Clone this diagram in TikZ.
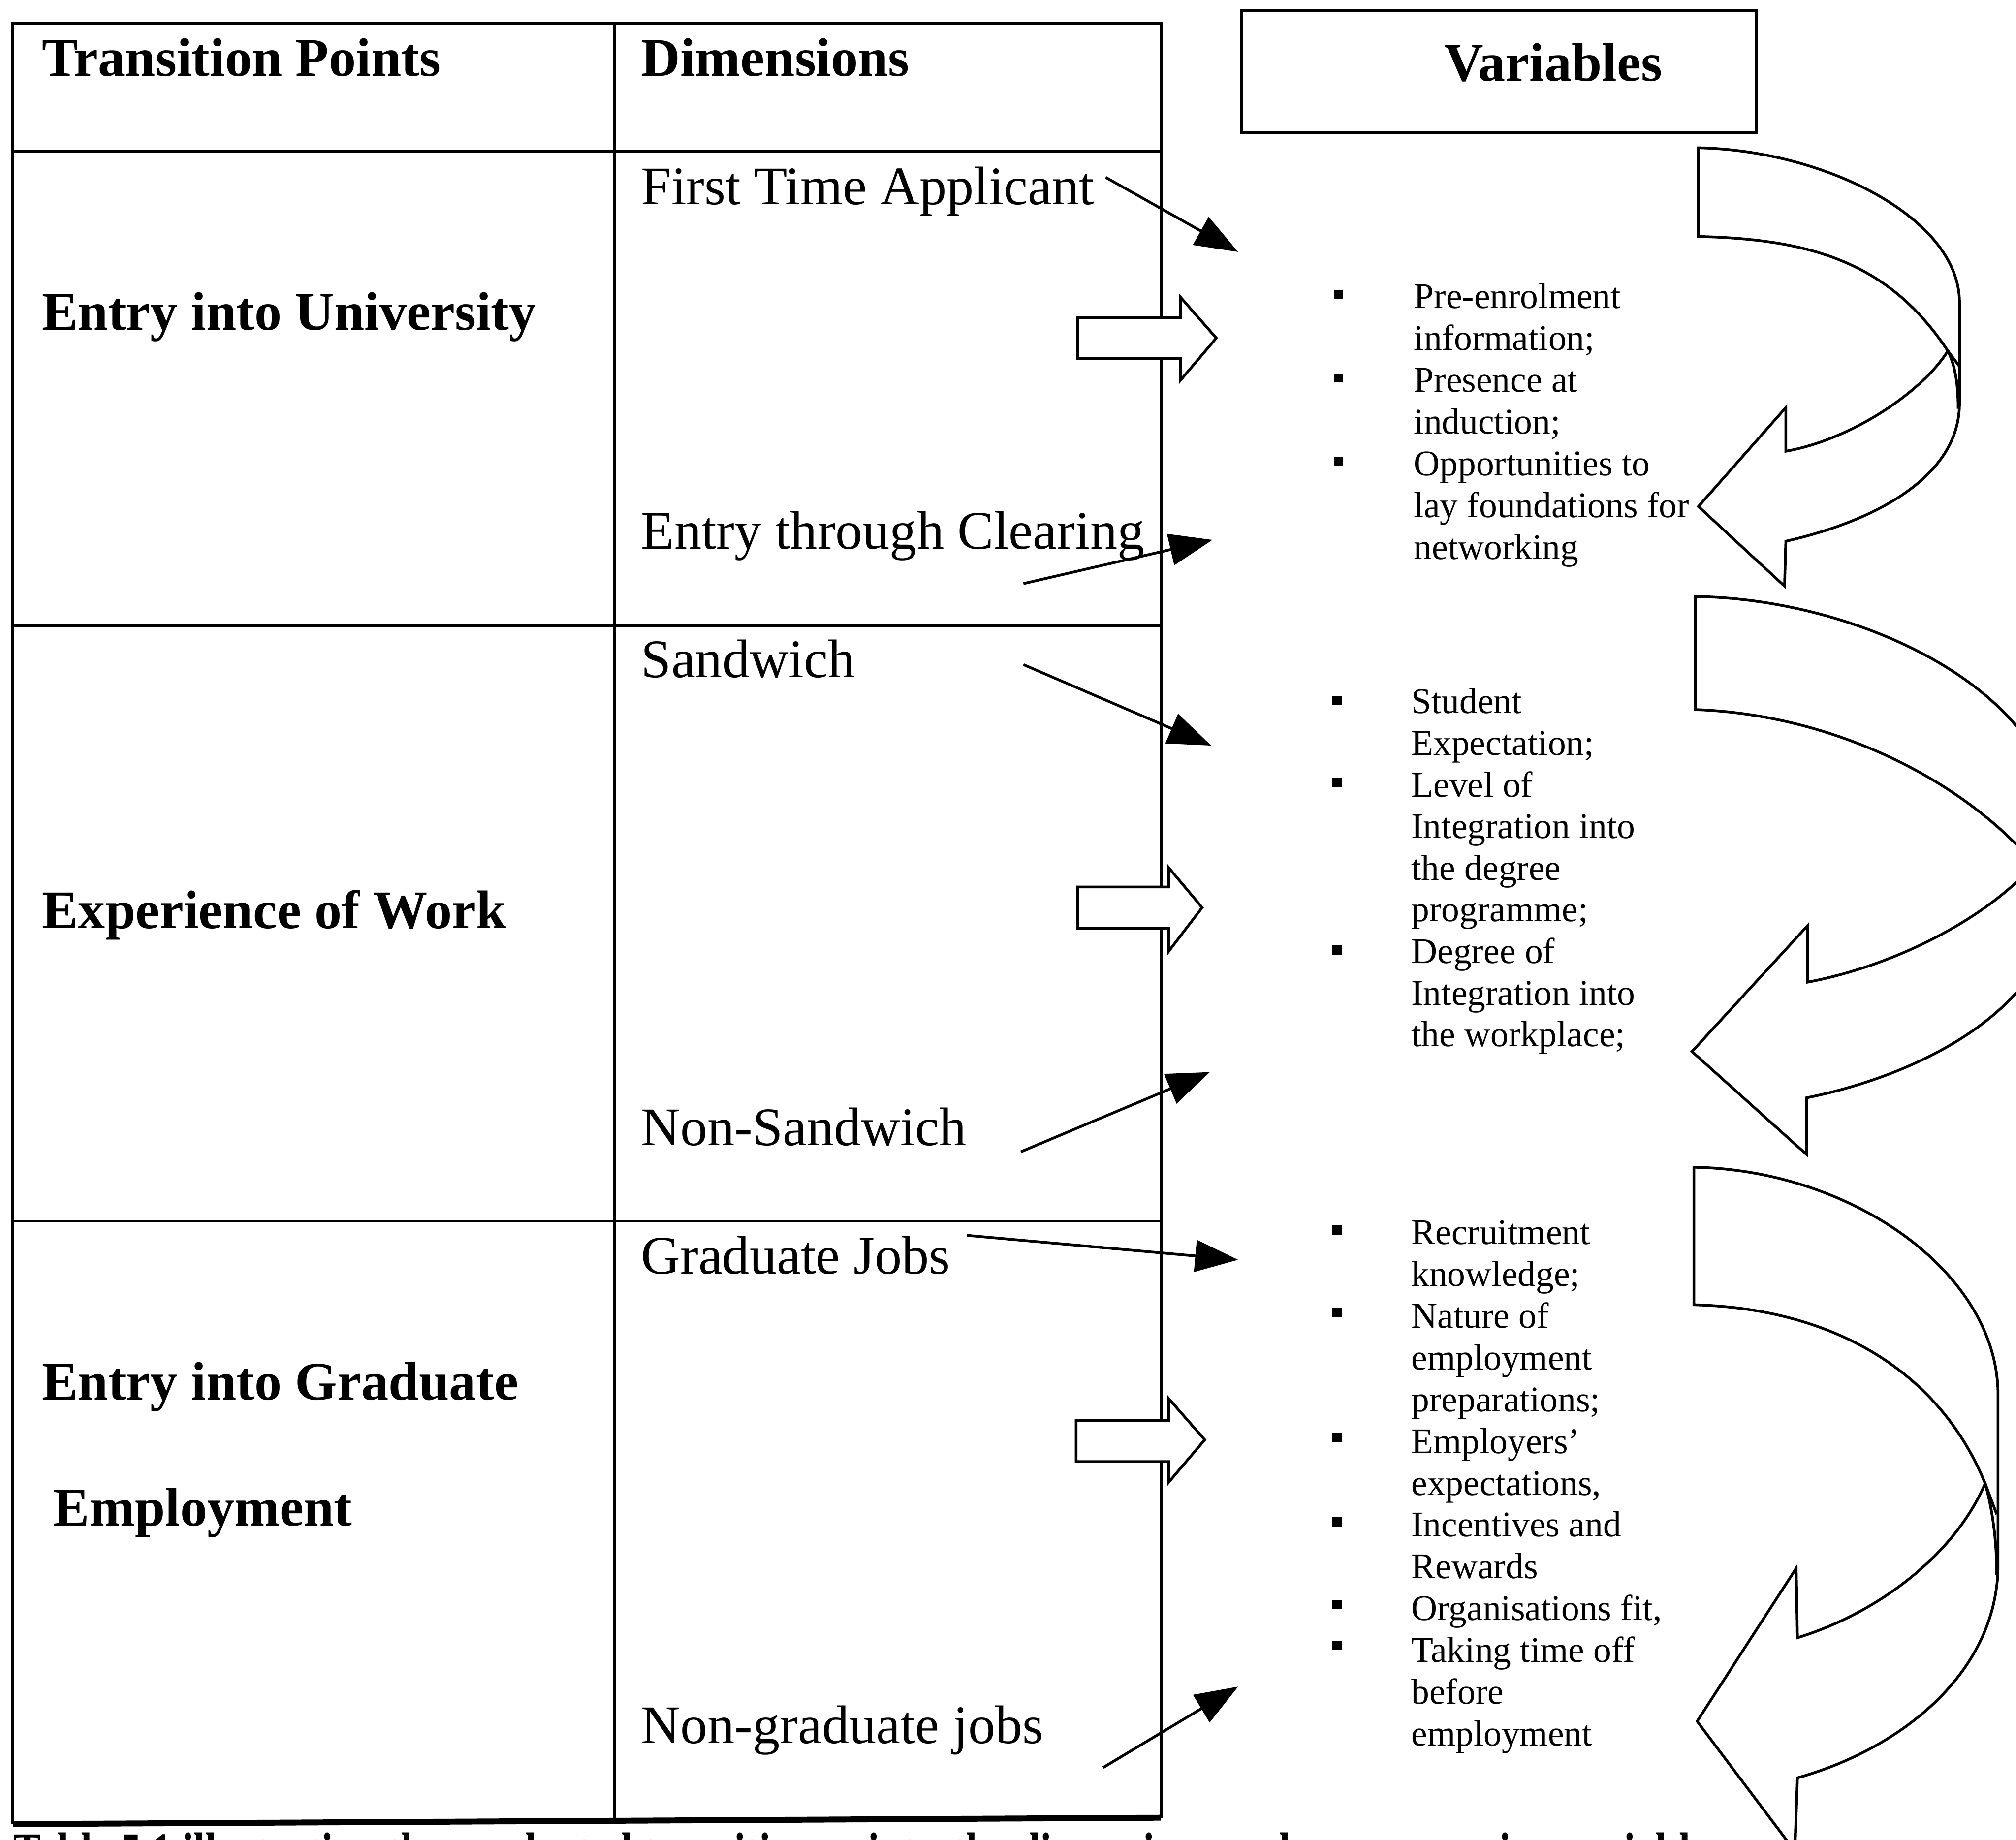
\documentclass[tikz,border=0pt]{standalone}
\usepackage{fontspec}
\usepackage{graphicx}
\setmainfont{Liberation Serif}
\usetikzlibrary{arrows.meta}
\begin{document}
\begin{tikzpicture}[x=0.01cm,y=-0.01cm,
  rule/.style={line width=0.6pt},
  headtext/.style={font=\fontsize{12}{14}\selectfont\bfseries, anchor=base west, inner sep=0pt},
  dimtext/.style={font=\fontsize{12}{14}\selectfont, anchor=base west, inner sep=0pt},
  vtext/.style={font=\fontsize{8}{9.25}\selectfont, anchor=base west, inner sep=0pt},
  bul/.style={fill=black, inner sep=0pt, minimum size=0.072cm},
  blockarrow/.style={draw, fill=white, line width=0.6pt, line join=miter},
  curvearrow/.style={draw, fill=white, line width=0.6pt, line join=miter},
  foldline/.style={line width=0.6pt},
  thinarrow/.style={line width=0.6pt, -{Triangle[length=9.5pt,width=7pt]}}
]
\useasboundingbox (0,0) rectangle (1568,1431);
\clip (0,0) rectangle (1568,1431);

% ---------- table ----------
\draw[rule] (10,1419) -- (10,18) -- (903,18) -- (903,1414);
\draw[rule] (478,18) -- (478,1416);
\draw[rule] (10,118) -- (903,118);
\draw[rule] (10,487) -- (903,487);
\draw[rule] (10,950) -- (903,950);
\draw[line width=1.3pt] (10,1419) -- (903,1414);

% header texts
\node[headtext] (tp) at (32,59) {Transition Points};
\node[headtext] (dm) at (498,59) {Dimensions};

% variables box
\node[draw, line width=0.6pt, minimum width=4cm, minimum height=0.95cm, inner sep=0pt] (varbox) at (1166,55.5) {};
\node[headtext, anchor=base] (vars) at (1208,63) {Variables};

% row labels
\node[headtext] (r1) at (32,256.5) {Entry into University};
\node[headtext] (r2) at (32,722) {Experience of Work};
\node[headtext] (r3a) at (32,1089) {Entry into Graduate};
\node[headtext] (r3b) at (41,1187) {Employment};

% dimensions
\node[dimtext] (d1) at (498,159) {First Time Applicant};
\node[dimtext] (d2) at (498,427) {Entry through Clearing};
\node[dimtext] (d3) at (498,527) {Sandwich};
\node[dimtext] (d4) at (498,891) {Non-Sandwich};
\node[dimtext] (d5) at (498,991) {Graduate Jobs};
\node[dimtext] (d6) at (498,1356) {Non-graduate jobs};

% ---------- variable lists ----------
\foreach \t [count=\i] in {{Pre-enrolment},{information;},{Presence at},{induction;},{Opportunities to},{lay foundations for},{networking}}
  \node[vtext] (ga\i) at (1099,{240+(\i-1)*32.5}) {\t};
\foreach \yy [count=\i] in {229,294,359}
  \node[bul] (ba\i) at (1041,\yy) {};

\foreach \t [count=\i] in {{Student},{Expectation;},{Level of},{Integration into},{the degree},{programme;},{Degree of},{Integration into},{the workplace;}}
  \node[vtext] (gb\i) at (1097,{555+(\i-1)*32.4}) {\t};
\foreach \yy [count=\i] in {545,609,739}
  \node[bul] (bb\i) at (1040,\yy) {};

\foreach \t [count=\i] in {{Recruitment},{knowledge;},{Nature of},{employment},{preparations;},{Employers’},{expectations,},{Incentives and},{Rewards},{Organisations fit,},{Taking time off},{before},{employment}}
  \node[vtext] (gc\i) at (1097,{968+(\i-1)*32.5}) {\t};
\foreach \yy [count=\i] in {957,1021,1118,1184,1248,1280}
  \node[bul] (bc\i) at (1040,\yy) {};

% ---------- thin arrows ----------
\coordinate (s1) at (860,138);  \coordinate (e1) at (963,196);
\coordinate (s2) at (796,454);  \coordinate (e2) at (943,420);
\coordinate (s3) at (796,517);  \coordinate (e3) at (942,580);
\coordinate (s4) at (794,896);  \coordinate (e4) at (941,834);
\coordinate (s5) at (752,961);  \coordinate (e5) at (963,980);
\coordinate (s6) at (858,1375); \coordinate (e6) at (963,1312);
\foreach \k in {1,...,6} \draw[thinarrow] (s\k) -- (e\k);

% ---------- block arrows ----------
\draw[blockarrow] (838,247) -- (918,247) -- (918,231) -- (946,263) -- (918,296) -- (918,279) -- (838,279) -- cycle;
\draw[blockarrow] (838,690) -- (909,690) -- (909,675) -- (935,706) -- (909,740) -- (909,722) -- (838,722) -- cycle;
\draw[blockarrow] (837,1105) -- (909,1105) -- (909,1088) -- (937,1120) -- (909,1153) -- (909,1137) -- (837,1137) -- cycle;

% ---------- curved arrows ----------
% top
\draw[curvearrow] (1321,115) .. controls (1420,117) and (1524,170) .. (1524,235)
  -- (1524,314) .. controls (1524,370) and (1460,405) .. (1389,421)
  -- (1388,456) -- (1321,394) -- (1389,317) -- (1389,351)
  .. controls (1440,342) and (1495,305) .. (1515,273)
  .. controls (1470,205) and (1410,186) .. (1321,184) -- cycle;
\draw[foldline] (1515,273) -- (1524,285);
\draw[foldline] (1515,273) .. controls (1521,285) and (1523,300) .. (1523,318);

% middle
\draw[curvearrow] (1318.5,464) .. controls (1450,466) and (1598,540) .. (1598,640)
  -- (1598,700) .. controls (1598,780) and (1500,835) .. (1405,854)
  -- (1405,898) -- (1316,818) -- (1406,720) -- (1406,764)
  .. controls (1480,750) and (1550,710) .. (1582,672)
  .. controls (1530,610) and (1430,556) .. (1318.5,552) -- cycle;
\draw[foldline] (1582,672) -- (1598,690);
\draw[foldline] (1582,672) .. controls (1590,690) and (1597,705) .. (1597,725);

% bottom
\draw[curvearrow] (1317.5,908) .. controls (1440,910) and (1554,990) .. (1554,1085)
  -- (1554,1217) .. controls (1554,1300) and (1480,1360) .. (1398,1383)
  -- (1396,1440) -- (1320,1339) -- (1397,1220) -- (1398,1274)
  .. controls (1460,1255) and (1520,1210) .. (1544,1154)
  .. controls (1510,1070) and (1430,1018) .. (1317.5,1015) -- cycle;
\draw[foldline] (1544,1154) -- (1553,1178);
\draw[foldline] (1544,1154) .. controls (1550,1175) and (1553,1200) .. (1553,1225);

% ---------- caption (cut off at the bottom edge, as in the reference) ----------
\node[anchor=base west, inner sep=0pt, font=\fontsize{12}{14}\selectfont\bfseries] (cap) at (10,1455)
  {\resizebox{13.3cm}{\height}{Table 5.1 illustrating the conducted transition points, the dimensions and accompanying variables}};
\end{tikzpicture}
\end{document}
